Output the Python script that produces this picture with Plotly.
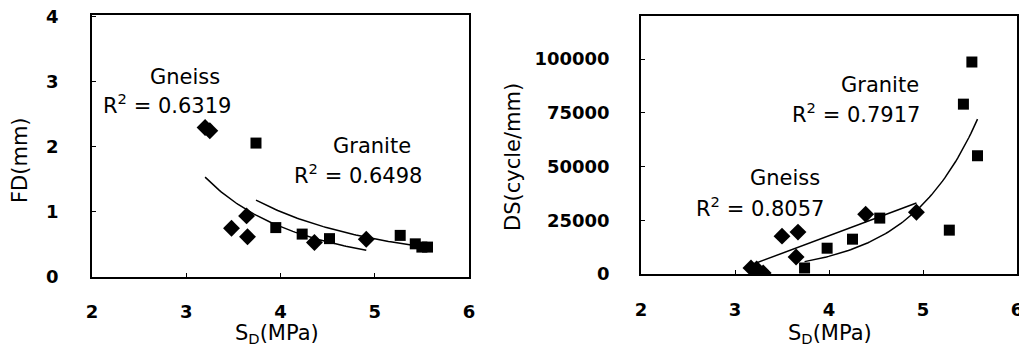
import numpy as np
import plotly.graph_objects as go

# page body has an 8px margin: figure drawn from (8, 8)
OX, OY = 8, 8
W, H = 1019, 339

# ---- data: left panel (FD vs SD) ----
fd_gneiss_x = [3.20, 3.25, 3.48, 3.64, 3.65, 4.36, 4.91]
fd_gneiss_y = [2.30, 2.25, 0.75, 0.94, 0.62, 0.53, 0.58]
fd_granite_x = [3.74, 3.95, 4.23, 4.52, 5.27, 5.43, 5.50, 5.56]
fd_granite_y = [2.06, 0.76, 0.66, 0.59, 0.64, 0.51, 0.46, 0.46]

# ---- data: right panel (DS vs SD) ----
ds_gneiss_x = [3.17, 3.23, 3.30, 3.50, 3.67, 3.65, 4.39, 4.93]
ds_gneiss_y = [2800, 2300, 500, 17600, 19500, 7900, 27800, 28700]
ds_granite_x = [3.74, 3.98, 4.25, 4.54, 5.28, 5.52, 5.43, 5.58]
ds_granite_y = [2800, 12000, 16200, 26000, 20400, 98600, 79000, 55000]

x_ticks = [2, 3, 4, 5, 6]
fd_ticks = [0, 1, 2, 3, 4]
ds_ticks = [0, 25000, 50000, 75000, 100000]
ds_tick_labels = ["0", "25000", "50000", "75000", "100000"]

r2_fd_gneiss = "0.6319"
r2_fd_granite = "0.6498"
r2_ds_gneiss = "0.8057"
r2_ds_granite = "0.7917"


def power_fit(x, y, n=80):
    x = np.asarray(x, float); y = np.asarray(y, float)
    b, lna = np.polyfit(np.log(x), np.log(y), 1)
    xs = np.linspace(x.min(), x.max(), n)
    return xs, np.exp(lna) * xs ** b


def linear_fit(x, y, n=2):
    x = np.asarray(x, float); y = np.asarray(y, float)
    m, c = np.polyfit(x, y, 1)
    xs = np.linspace(x.min(), x.max(), n)
    return xs, m * xs + c


def expo_fit(x, y, n=80):
    x = np.asarray(x, float); y = np.asarray(y, float)
    b, lna = np.polyfit(x, np.log(y), 1)
    xs = np.linspace(x.min(), x.max(), n)
    return xs, np.exp(lna + b * xs)


def px(x):
    return (x - OX) / W


def py(y):
    return (H - (y - OY)) / H


fig = go.Figure()
line = dict(color="black", width=1.5)
dia = dict(symbol="diamond", size=13, color="black")
sq = dict(symbol="square", size=11, color="black")

# left panel
xs, ys = power_fit(fd_gneiss_x, fd_gneiss_y)
fig.add_trace(go.Scatter(x=xs, y=ys, mode="lines", line=line, xaxis="x", yaxis="y"))
xs, ys = power_fit(fd_granite_x, fd_granite_y)
fig.add_trace(go.Scatter(x=xs, y=ys, mode="lines", line=line, xaxis="x", yaxis="y"))
fig.add_trace(go.Scatter(x=fd_gneiss_x, y=fd_gneiss_y, mode="markers", marker=dia, xaxis="x", yaxis="y"))
fig.add_trace(go.Scatter(x=fd_granite_x, y=fd_granite_y, mode="markers", marker=sq, xaxis="x", yaxis="y"))

# right panel
xs, ys = linear_fit(ds_gneiss_x, ds_gneiss_y)
fig.add_trace(go.Scatter(x=xs, y=ys, mode="lines", line=line, xaxis="x2", yaxis="y2"))
xs, ys = expo_fit(ds_granite_x, ds_granite_y)
fig.add_trace(go.Scatter(x=xs, y=ys, mode="lines", line=line, xaxis="x2", yaxis="y2"))
fig.add_trace(go.Scatter(x=ds_gneiss_x, y=ds_gneiss_y, mode="markers", marker=dia, xaxis="x2", yaxis="y2"))
fig.add_trace(go.Scatter(x=ds_granite_x, y=ds_granite_y, mode="markers", marker=sq, xaxis="x2", yaxis="y2"))

tickfont = dict(family="DejaVu Sans", size=18, color="black", weight="bold")
ax_common = dict(showline=True, linecolor="black", linewidth=1.5, mirror=True,
                 showgrid=False, zeroline=False, ticks="inside", ticklen=4,
                 tickcolor="black", tickfont=tickfont, automargin=False,
                 ticklabeloverflow="allow")

fig.update_layout(
    width=W, height=H,
    margin=dict(l=0, r=0, t=0, b=0, autoexpand=False),
    paper_bgcolor="white", plot_bgcolor="white",
    showlegend=False,
    xaxis=dict(domain=[px(92), px(469)], range=[2, 6], tickvals=x_ticks,
               anchor="y", ticklabelstandoff=18, **ax_common),
    yaxis=dict(domain=[py(277), py(15)], range=[0, 4.03], tickvals=fd_ticks,
               anchor="x", ticklabelstandoff=28, **ax_common),
    xaxis2=dict(domain=[px(641), px(1017)], range=[2, 6], tickvals=x_ticks,
                anchor="y2", ticklabelstandoff=19, **ax_common),
    yaxis2=dict(domain=[py(274), py(16)], range=[0, 120000], tickvals=ds_ticks,
                ticktext=ds_tick_labels, anchor="x2", ticklabelstandoff=26, **ax_common),
)

afont = dict(family="DejaVu Sans", size=21, color="black")
ann = [
    dict(x=2.99, y=3.08, xref="x", yref="y", text="Gneiss"),
    dict(x=2.80, y=2.66, xref="x", yref="y", text="R<sup>2</sup> = " + r2_fd_gneiss),
    dict(x=4.97, y=2.02, xref="x", yref="y", text="Granite"),
    dict(x=4.82, y=1.59, xref="x", yref="y", text="R<sup>2</sup> = " + r2_fd_granite),
    dict(x=4.54, y=87900, xref="x2", yref="y2", text="Granite"),
    dict(x=4.29, y=74900, xref="x2", yref="y2", text="R<sup>2</sup> = " + r2_ds_granite),
    dict(x=3.53, y=44650, xref="x2", yref="y2", text="Gneiss"),
    dict(x=3.27, y=31160, xref="x2", yref="y2", text="R<sup>2</sup> = " + r2_ds_gneiss),
]
for a in ann:
    fig.add_annotation(showarrow=False, font=afont, xanchor="center", yanchor="middle", **a)

tfont = dict(family="DejaVu Sans", size=21, color="black")
fig.add_annotation(x=px(20), y=py(160), xref="paper", yref="paper", text="FD(mm)",
                   textangle=-90, showarrow=False, font=tfont, xanchor="center", yanchor="middle")
fig.add_annotation(x=px(513), y=py(157), xref="paper", yref="paper", text="DS(cycle/mm)",
                   textangle=-90, showarrow=False, font=tfont, xanchor="center", yanchor="middle")
fig.add_annotation(x=px(277), y=py(334), xref="paper", yref="paper", text="S<sub>D</sub>(MPa)",
                   showarrow=False, font=tfont, xanchor="center", yanchor="middle")
fig.add_annotation(x=px(830), y=py(334), xref="paper", yref="paper", text="S<sub>D</sub>(MPa)",
                   showarrow=False, font=tfont, xanchor="center", yanchor="middle")

fig.write_html("out.html")
